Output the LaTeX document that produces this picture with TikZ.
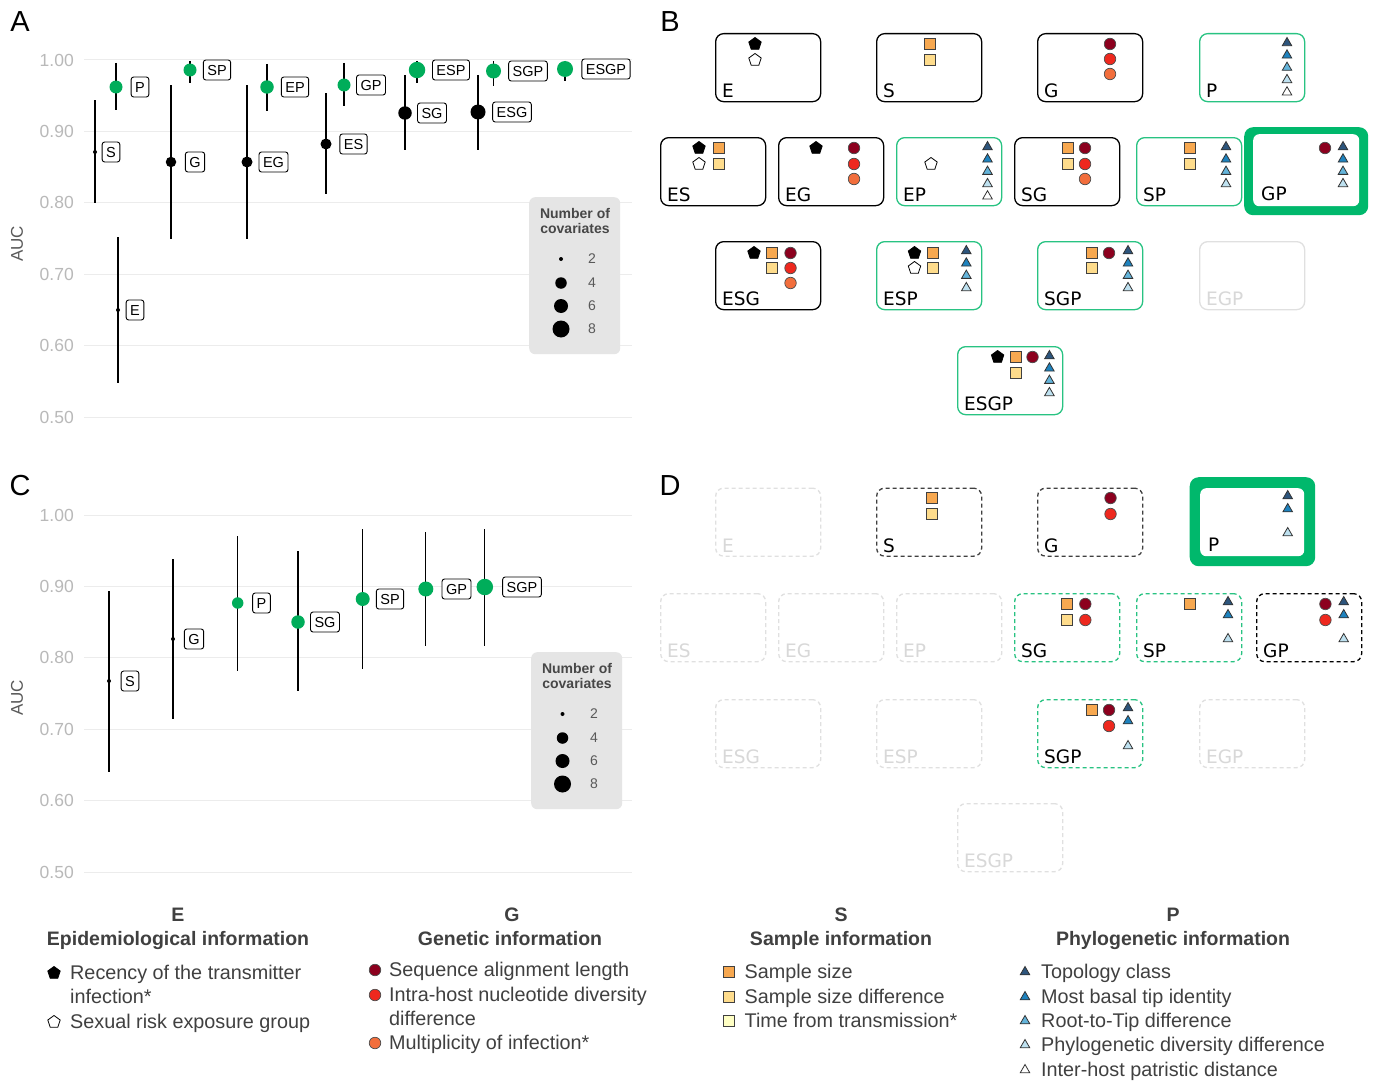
\documentclass[tikz,border=0pt]{standalone}
\usepackage{fontspec}
\setmainfont{Liberation Sans}
\newfontfamily\boxfont{DejaVu Sans}
\usetikzlibrary{shapes.geometric}
\definecolor{grn}{RGB}{0,173,90}
\definecolor{grnb}{RGB}{40,195,130}
\definecolor{grnk}{RGB}{0,184,108}
\definecolor{gridc}{RGB}{236,236,236}
\definecolor{tickc}{RGB}{185,185,185}
\definecolor{legbg}{RGB}{229,229,229}
\definecolor{txt}{RGB}{64,64,64}
\definecolor{sqa}{RGB}{247,168,80}
\definecolor{sqb}{RGB}{254,220,140}
\definecolor{sqc}{RGB}{255,255,196}
\definecolor{cia}{RGB}{140,0,30}
\definecolor{cib}{RGB}{238,40,30}
\definecolor{cic}{RGB}{242,110,60}
\definecolor{tra}{RGB}{45,85,125}
\definecolor{trb}{RGB}{30,130,190}
\definecolor{trc}{RGB}{100,180,218}
\definecolor{trd}{RGB}{190,225,240}
\definecolor{tre}{RGB}{255,255,255}
\definecolor{faint}{RGB}{224,224,224}
\definecolor{faintt}{RGB}{216,216,216}
\tikzset{
  errbar/.style={line width=1.1pt, black},
  dot/.style={circle, inner sep=0pt, draw=none},
  plab/.style={draw=black, line width=0.9pt, rounded corners=2.5pt, fill=white, inner xsep=4pt, inner ysep=4.75pt, text height=10.5pt, text depth=0pt, font=\fontsize{14.5}{15}\selectfont},
  gridl/.style={draw=gridc, line width=1pt},
  tick/.style={font=\fontsize{17.5}{17.5}\selectfont, text=tickc, anchor=east, inner sep=0pt},
  axl/.style={font=\fontsize{17}{17}\selectfont, text=black!65, rotate=90, inner sep=0pt},
  legbox/.style={rectangle, rounded corners=6pt, fill=legbg, draw=none, minimum width=91pt, minimum height=157pt, inner sep=0pt},
  legt/.style={font=\bfseries\fontsize{14}{15}\selectfont, text=black!72, align=center, inner sep=0pt},
  legn/.style={font=\fontsize{14}{14}\selectfont, text=black!65, inner sep=0pt},
  letter/.style={font=\fontsize{29}{29}\selectfont, inner sep=0pt},
  bx/.style={rectangle, minimum width=105pt, minimum height=68pt, rounded corners=8pt, line width=1.3pt, inner sep=0pt, fill=white},
  boxk/.style={bx, draw=black},
  boxg/.style={bx, draw=grnb},
  boxf/.style={bx, draw=faint},
  boxkd/.style={bx, draw=black!75, dash pattern=on 4pt off 3pt},
  boxbd/.style={bx, draw=black, dash pattern=on 4pt off 3pt},
  boxgd/.style={bx, draw=grnb, dash pattern=on 4pt off 3pt},
  boxfd/.style={bx, draw=faint, dash pattern=on 4pt off 3pt},
  gthick/.style={rectangle, fill=grnk, rounded corners=9pt, inner sep=0pt},
  ginner/.style={rectangle, fill=white, rounded corners=6pt, inner sep=0pt},
  blab/.style={font=\boxfont\fontsize{18.5}{18.5}\selectfont, inner sep=0pt, text=black},
  blabf/.style={blab, text=faintt},
  penf/.style={regular polygon, regular polygon sides=5, minimum size=13pt, inner sep=0pt, fill=black, draw=black, line width=0.8pt},
  penh/.style={penf, fill=white},
  sq/.style={rectangle, minimum size=11pt, inner sep=0pt, draw=black!75, line width=0.8pt},
  sqA/.style={sq, fill=sqa}, sqB/.style={sq, fill=sqb}, sqC/.style={sq, fill=sqc},
  ci/.style={circle, minimum size=11.5pt, inner sep=0pt, draw=black!70, line width=0.7pt},
  ciA/.style={ci, fill=cia}, ciB/.style={ci, fill=cib}, ciC/.style={ci, fill=cic},
  tri/.style={regular polygon, regular polygon sides=3, minimum size=11pt, inner sep=0pt, draw=black!80, line width=0.8pt},
  triA/.style={tri, fill=tra}, triB/.style={tri, fill=trb}, triC/.style={tri, fill=trc}, triD/.style={tri, fill=trd}, triE/.style={tri, fill=tre},
  legtxt/.style={font=\fontsize{19.8}{19.8}\selectfont, text=txt, inner sep=0pt, anchor=base west},
  leghead/.style={font=\bfseries\fontsize{19.5}{19.5}\selectfont, text=txt, inner sep=0pt, anchor=base}
}
\newcommand\mypt[9]{%
  \draw[errbar] (#2,#6) -- (#2,#7);
  \node[dot, minimum size=#4pt, fill=#5] (#1) at (#2,#3) {};
  \node[plab] (#1-lab) at (#8,#3) {#9};}
\newcommand\mybox[6]{%
  \node[#1, anchor=north west] (#3) at (#4,#5) {};
  \node[#2, anchor=base west] (#3-l) at ([xshift=7pt,yshift=4.5pt]#3.south west) {#6};}
\newcommand\mysym[4]{\node[#1] (#2) at (#3,#4) {};}
\newcommand\mytri[3]{%
  \node[triA] (#1-t1) at (#2,#3) {};
  \node[triB] (#1-t2) at (#2,#3+12.3) {};
  \node[triC] (#1-t3) at (#2,#3+24.6) {};
  \node[triD] (#1-t4) at (#2,#3+36.9) {};}
\newcommand\mytriv[3]{\mytri{#1}{#2}{#3}\node[triE] (#1-t5) at (#2,#3+49.2) {};}
\begin{document}
\begin{tikzpicture}[x=1pt,y=-1pt]
\useasboundingbox (0,0) rectangle (1381,1081);
\fill[white] (0,0) rectangle (1381,1081);
% ---------- panel letters
\node[letter] (LA) at (20,22) {A};
\node[letter] (LB) at (670,22) {B};
\node[letter] (LC) at (20,486) {C};
\node[letter] (LD) at (670,486) {D};
% ---------- panel A axes
\foreach \v/\yy in {1.00/60,0.90/131.4,0.80/202.8,0.70/274.2,0.60/345.6,0.50/417}{
  \draw[gridl] (84,\yy) -- (632,\yy);
  \node[tick] at (74,\yy) {\v};
}
\node[axl] (A-auc) at (17,244) {AUC};
\mypt{A-S}{95}{152}{4}{black}{100}{203}{111}{S}
\mypt{A-P}{116}{87}{13}{grn}{63}{110}{140}{P}
\mypt{A-E}{118}{310}{4}{black}{237}{383}{135}{E}
\mypt{A-G}{171}{162}{10.5}{black}{85}{239}{195}{G}
\mypt{A-SP}{190}{70}{13}{grn}{61}{83}{217}{SP}
\mypt{A-EG}{247}{162}{11}{black}{85}{239}{273.5}{EG}
\mypt{A-EP}{267}{87}{13.5}{grn}{64}{111}{295}{EP}
\mypt{A-ES}{326}{144}{11}{black}{93}{194}{353.5}{ES}
\mypt{A-GP}{344}{85}{13}{grn}{63}{106}{371}{GP}
\mypt{A-SG}{405}{113}{13.5}{black}{75}{150}{432}{SG}
\mypt{A-ESP}{417}{70}{16.5}{grn}{61}{83}{451}{ESP}
\mypt{A-ESG}{478}{112}{15}{black}{75}{150}{512}{ESG}
\mypt{A-SGP}{493.5}{71}{15}{grn}{61}{86}{528}{SGP}
\mypt{A-ESGP}{565}{69}{16}{grn}{61}{81}{606}{ESGP}
% legend A
\node[legbox, anchor=north west] (A-leg) at (529,197) {};
\node[legt] (A-legt) at (575,220.5) {Number of\\covariates};
\foreach \d/\yy/\n in {4/259/2,11.5/283/4,14/306/6,17/329/8}{
  \node[dot, fill=black, minimum size=\d pt] (A-ld\n) at (561,\yy) {};
  \node[legn] (A-ln\n) at (592,\yy) {\n};
}
% ---------- panel C axes
\foreach \v/\yy in {1.00/515,0.90/586.4,0.80/657.8,0.70/729.2,0.60/800.6,0.50/872}{
  \draw[gridl] (84,\yy) -- (632,\yy);
  \node[tick] at (74,\yy) {\v};
}
\node[axl] (C-auc) at (17,698) {AUC};
\mypt{C-S}{109}{681}{4}{black}{591}{772}{130}{S}
\mypt{C-G}{173}{639}{4}{black}{559}{719}{194}{G}
\mypt{C-P}{237.7}{603}{11.5}{grn}{536}{671}{261.5}{P}
\mypt{C-SG}{298}{622}{13.5}{grn}{551}{691}{325}{SG}
\mypt{C-SP}{362.7}{599}{14}{grn}{529}{669}{390}{SP}
\mypt{C-GP}{425.8}{589}{15}{grn}{532}{646}{456.5}{GP}
\mypt{C-SGP}{484.8}{587}{16.5}{grn}{529}{646}{522}{SGP}
\node[legbox, anchor=north west] (C-leg) at (531,652) {};
\node[legt] (C-legt) at (577,675.5) {Number of\\covariates};
\foreach \d/\yy/\n in {4/714/2,11.5/738/4,14/761/6,17/784/8}{
  \node[dot, fill=black, minimum size=\d pt] (C-ld\n) at (562.5,\yy) {};
  \node[legn] (C-ln\n) at (594,\yy) {\n};
}
% ---------- panel B boxes
\mybox{boxk}{blab}{B-E}{715}{33}{E}
\mybox{boxk}{blab}{B-S}{876}{33}{S}
\mybox{boxk}{blab}{B-G}{1037}{33}{G}
\mybox{boxg}{blab}{B-P}{1199}{33}{P}
\mybox{boxk}{blab}{B-ES}{660}{137}{ES}
\mybox{boxk}{blab}{B-EG}{778}{137}{EG}
\mybox{boxg}{blab}{B-EP}{896}{137}{EP}
\mybox{boxk}{blab}{B-SG}{1014}{137}{SG}
\mybox{boxg}{blab}{B-SP}{1136}{137}{SP}
\node[gthick, minimum width=124pt, minimum height=88pt, anchor=north west] (B-GP-frame) at (1244,127) {};
\node[ginner, minimum width=106pt, minimum height=72pt, anchor=north west] (B-GP) at (1253,134) {};
\node[blab, anchor=base west] (B-GP-l) at ([xshift=8pt,yshift=5.5pt]B-GP.south west) {GP};
\mybox{boxk}{blab}{B-ESG}{715}{241}{ESG}
\mybox{boxg}{blab}{B-ESP}{876}{241}{ESP}
\mybox{boxg}{blab}{B-SGP}{1037}{241}{SGP}
\mybox{boxf}{blabf}{B-EGP}{1199}{241}{EGP}
\mybox{boxg}{blab}{B-ESGP}{957}{346}{ESGP}
% symbols B
\mysym{penf}{B-E-1}{755}{44}\mysym{penh}{B-E-2}{755}{60}
\mysym{sqA}{B-S-1}{930}{44}\mysym{sqB}{B-S-2}{930}{60}
\mysym{ciA}{B-G-1}{1110}{44}\mysym{ciB}{B-G-2}{1110}{59}\mysym{ciC}{B-G-3}{1110}{74}
\mytriv{B-P}{1287}{43}
\mysym{penf}{B-ES-1}{699}{148}\mysym{penh}{B-ES-2}{699}{164}
\mysym{sqA}{B-ES-3}{719}{148}\mysym{sqB}{B-ES-4}{719}{164}
\mysym{penf}{B-EG-1}{816}{148}
\mysym{ciA}{B-EG-2}{854}{148}\mysym{ciB}{B-EG-3}{854}{164}\mysym{ciC}{B-EG-4}{854}{179}
\mysym{penh}{B-EP-1}{931}{164}
\mytriv{B-EP}{987.5}{147}
\mysym{sqA}{B-SG-1}{1068}{148}\mysym{sqB}{B-SG-2}{1068}{164}
\mysym{ciA}{B-SG-3}{1085}{148}\mysym{ciB}{B-SG-4}{1085}{164}\mysym{ciC}{B-SG-5}{1085}{179}
\mysym{sqA}{B-SP-1}{1189.5}{148}\mysym{sqB}{B-SP-2}{1189.5}{164}
\mytri{B-SP}{1226}{147}
\mysym{ciA}{B-GP-1}{1325}{148}
\mytri{B-GP}{1343}{147}
\mysym{penf}{B-ESG-1}{754}{253}
\mysym{sqA}{B-ESG-2}{772}{253}\mysym{sqB}{B-ESG-3}{772}{268}
\mysym{ciA}{B-ESG-4}{790.5}{253}\mysym{ciB}{B-ESG-5}{790.5}{268}\mysym{ciC}{B-ESG-6}{790.5}{283}
\mysym{penf}{B-ESP-1}{914.5}{253}\mysym{penh}{B-ESP-2}{914.5}{268}
\mysym{sqA}{B-ESP-3}{933}{253}\mysym{sqB}{B-ESP-4}{933}{268}
\mytri{B-ESP}{966.3}{251}
\mysym{sqA}{B-SGP-1}{1092}{253}\mysym{sqB}{B-SGP-2}{1092}{268}
\mysym{ciA}{B-SGP-3}{1109}{253}
\mytri{B-SGP}{1128}{251}
\mysym{penf}{B-ESGP-1}{997.6}{357}
\mysym{sqA}{B-ESGP-2}{1016}{357}\mysym{sqB}{B-ESGP-3}{1016}{373}
\mysym{ciA}{B-ESGP-4}{1032.5}{357}
\mytri{B-ESGP}{1049.4}{356}
% ---------- panel D boxes
\mybox{boxfd}{blabf}{D-E}{715}{487.5}{E}
\mybox{boxkd}{blab}{D-S}{876}{487.5}{S}
\mybox{boxkd}{blab}{D-G}{1037}{487.5}{G}
\node[gthick, minimum width=125.5pt, minimum height=89pt, anchor=north west] (D-P-frame) at (1189.5,477) {};
\node[ginner, minimum width=104pt, minimum height=68pt, anchor=north west] (D-P) at (1200,488) {};
\node[blab, anchor=base west] (D-P-l) at ([xshift=8pt,yshift=5pt]D-P.south west) {P};
\mybox{boxfd}{blabf}{D-ES}{660}{593}{ES}
\mybox{boxfd}{blabf}{D-EG}{778}{593}{EG}
\mybox{boxfd}{blabf}{D-EP}{896}{593}{EP}
\mybox{boxgd}{blab}{D-SG}{1014}{593}{SG}
\mybox{boxgd}{blab}{D-SP}{1136}{593}{SP}
\mybox{boxbd}{blab}{D-GP}{1256}{593}{GP}
\mybox{boxfd}{blabf}{D-ESG}{715}{699}{ESG}
\mybox{boxfd}{blabf}{D-ESP}{876}{699}{ESP}
\mybox{boxgd}{blab}{D-SGP}{1037}{699}{SGP}
\mybox{boxfd}{blabf}{D-EGP}{1199}{699}{EGP}
\mybox{boxfd}{blabf}{D-ESGP}{957}{803}{ESGP}
% symbols D
\mysym{sqA}{D-S-1}{931.4}{498}\mysym{sqB}{D-S-2}{931.4}{514}
\mysym{ciA}{D-G-1}{1110.5}{498}\mysym{ciB}{D-G-2}{1110.5}{514}
\mysym{triA}{D-P-t1}{1287.7}{496}\mysym{triB}{D-P-t2}{1287.7}{509}\mysym{triD}{D-P-t4}{1287.7}{533}
\mysym{sqA}{D-SG-1}{1067}{604}\mysym{sqB}{D-SG-2}{1067}{620}
\mysym{ciA}{D-SG-3}{1085.3}{604}\mysym{ciB}{D-SG-4}{1085.3}{620}
\mysym{sqA}{D-SP-1}{1189.5}{604}
\mysym{triA}{D-SP-t1}{1228}{602}\mysym{triB}{D-SP-t2}{1228}{615}\mysym{triD}{D-SP-t4}{1228}{639}
\mysym{ciA}{D-GP-1}{1325.4}{604}\mysym{ciB}{D-GP-2}{1325.4}{620}
\mysym{triA}{D-GP-t1}{1343.7}{602}\mysym{triB}{D-GP-t2}{1343.7}{615}\mysym{triD}{D-GP-t4}{1343.7}{639}
\mysym{sqA}{D-SGP-1}{1091.7}{710}
\mysym{ciA}{D-SGP-2}{1109}{710}\mysym{ciB}{D-SGP-3}{1109}{726}
\mysym{triA}{D-SGP-t1}{1128}{708}\mysym{triB}{D-SGP-t2}{1128}{721}\mysym{triD}{D-SGP-t4}{1128}{746}
% ---------- bottom legend
\node[leghead] (K-E) at (178,921.5) {E};
\node[leghead] (K-Et) at (178,945.5) {Epidemiological information};
\mysym{penf}{K-E1}{54}{973}\mysym{penh}{K-E2}{54}{1022}
\node[legtxt] (K-E1t) at (70,979.5) {Recency of the transmitter};
\node[legtxt] (K-E1u) at (70,1003.5) {infection*};
\node[legtxt] (K-E2t) at (70,1028.5) {Sexual risk exposure group};
\node[leghead] (K-G) at (512,921.5) {G};
\node[leghead] (K-Gt) at (510,945.5) {Genetic information};
\mysym{ciA}{K-G1}{375}{970}\mysym{ciB}{K-G2}{375}{995}\mysym{ciC}{K-G3}{375}{1043}
\node[legtxt] (K-G1t) at (389,976.5) {Sequence alignment length};
\node[legtxt] (K-G2t) at (389,1001.5) {Intra-host nucleotide diversity};
\node[legtxt] (K-G2u) at (389,1025) {difference};
\node[legtxt] (K-G3t) at (389,1049.5) {Multiplicity of infection*};
\node[leghead] (K-S) at (841,921.5) {S};
\node[leghead] (K-St) at (841,945.5) {Sample information};
\mysym{sqA}{K-S1}{729}{972}\mysym{sqB}{K-S2}{729}{997}\mysym{sqC}{K-S3}{729}{1021}
\node[legtxt] (K-S1t) at (744.5,978.5) {Sample size};
\node[legtxt] (K-S2t) at (744.5,1003.5) {Sample size difference};
\node[legtxt] (K-S3t) at (744.5,1027.5) {Time from transmission*};
\node[leghead] (K-P) at (1173,921.5) {P};
\node[leghead] (K-Pt) at (1173,945.5) {Phylogenetic information};
\mysym{triA}{K-P1}{1025}{972}\mysym{triB}{K-P2}{1025}{997}\mysym{triC}{K-P3}{1025}{1021}\mysym{triD}{K-P4}{1025}{1045}\mysym{triE}{K-P5}{1025}{1070}
\node[legtxt] (K-P1t) at (1041,978.5) {Topology class};
\node[legtxt] (K-P2t) at (1041,1003.5) {Most basal tip identity};
\node[legtxt] (K-P3t) at (1041,1027.5) {Root-to-Tip difference};
\node[legtxt] (K-P4t) at (1041,1051.5) {Phylogenetic diversity difference};
\node[legtxt] (K-P5t) at (1041,1076.5) {Inter-host patristic distance};
\end{tikzpicture}
\end{document}
